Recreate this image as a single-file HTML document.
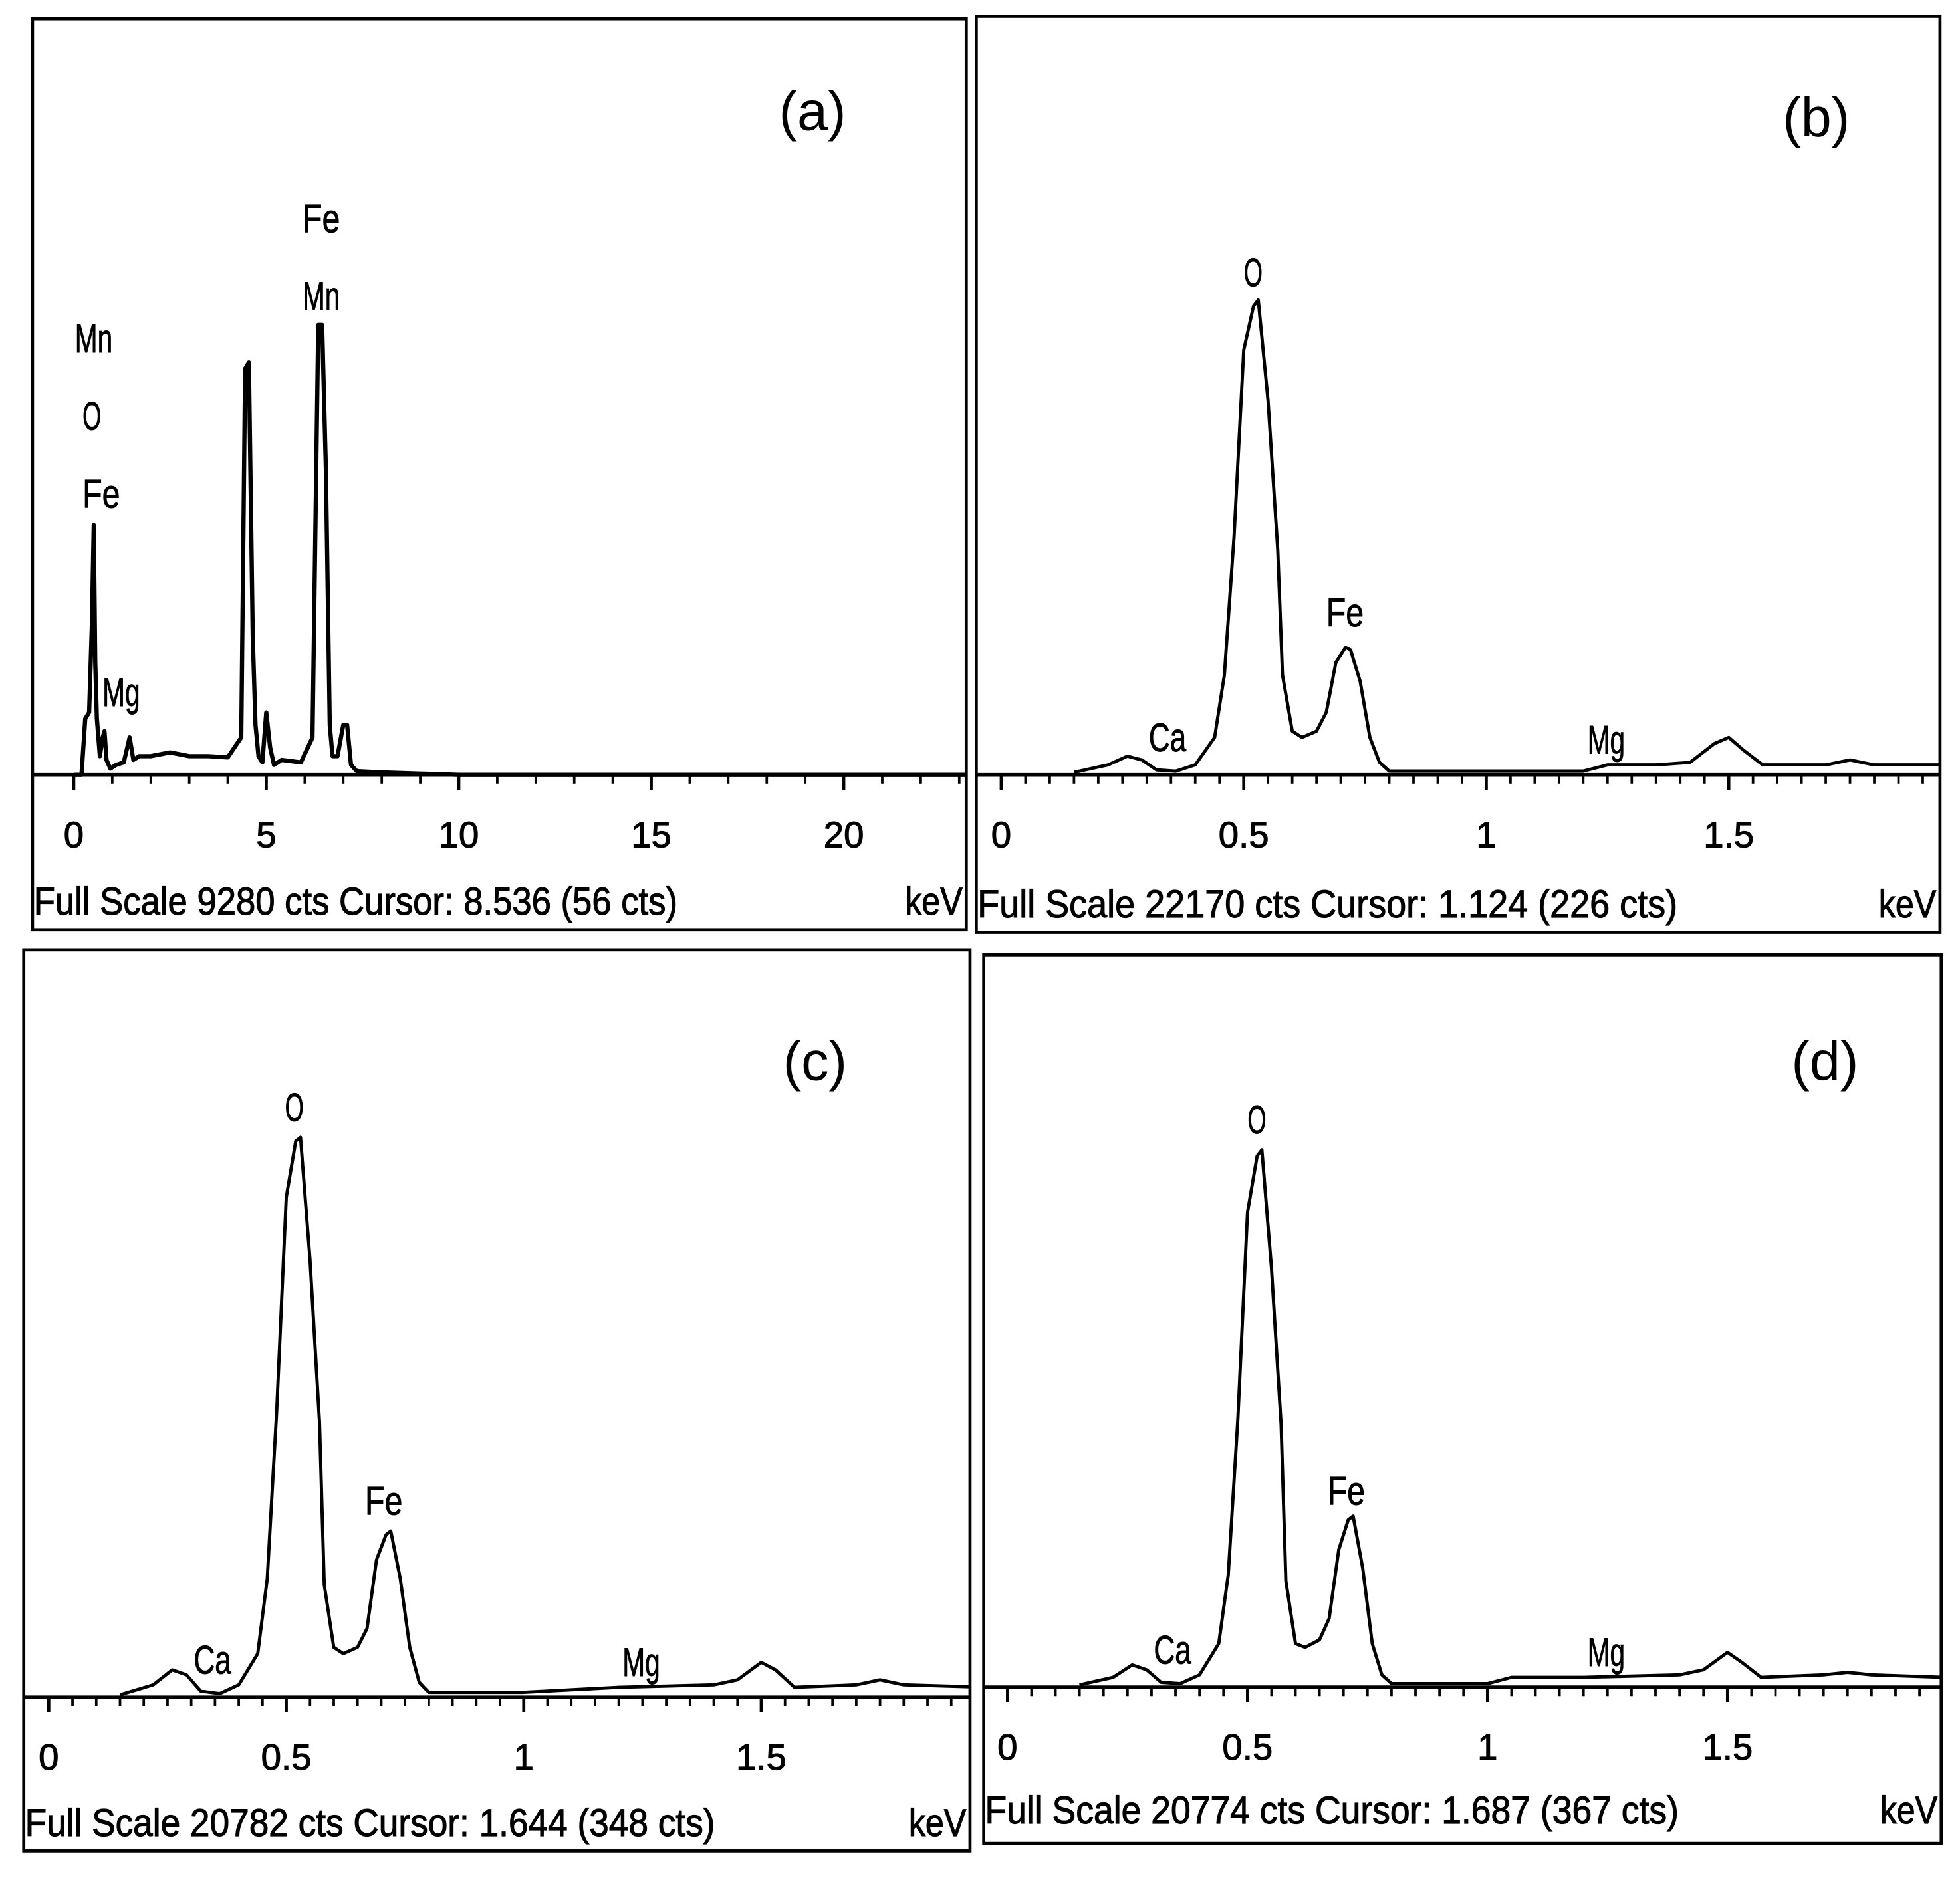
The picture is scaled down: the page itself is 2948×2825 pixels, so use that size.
<!DOCTYPE html>
<html><head><meta charset="utf-8"><style>
html,body{margin:0;padding:0;background:#fff;}
svg{display:block;}
text{font-family:"Liberation Sans",sans-serif;}
</style></head><body>
<svg id="fig" width="2948" height="2825" viewBox="0 0 1568 1502.6" preserveAspectRatio="none" xmlns="http://www.w3.org/2000/svg"></svg>
<script>
// Panel (a) spectrum: energy (keV) and counts (arbitrary, px-equivalent)
const aEnergy=[0,0.2,0.3,0.4,0.47,0.52,0.56,0.6,0.68,0.75,0.8,0.85,0.95,1.1,1.3,1.45,1.55,1.7,2,2.5,3,3.5,4,4.35,4.45,4.55,4.65,4.72,4.8,4.9,5.0,5.1,5.2,5.4,5.9,6.2,6.35,6.45,6.55,6.65,6.72,6.85,7.0,7.1,7.2,7.35,8,10,12,23.5];
const aCounts=[0,0,45,50,120,200,90,45,15,30,35,12,5,8,10,30,12,15,15,18,15,15,14,30,325,330,110,40,15,10,50,22,8,12,10,30,360,360,245,40,15,15,40,40,8,3,2,0,0,0];
// Panel (b)
const bEnergy=[0.15,0.22,0.26,0.29,0.32,0.36,0.4,0.44,0.46,0.48,0.5,0.52,0.53,0.55,0.57,0.58,0.6,0.62,0.65,0.67,0.69,0.71,0.72,0.74,0.76,0.78,0.8,1.0,1.2,1.25,1.35,1.42,1.47,1.5,1.53,1.57,1.7,1.75,1.8,1.95];
const bCounts=[2,8,15,12,4,3,8,30,80,190,340,375,380,300,180,80,35,30,35,50,90,102,100,75,30,10,3,3,3,8,8,10,25,30,20,8,8,12,8,8];
// Panel (c)
const cEnergy=[0.15,0.22,0.26,0.29,0.32,0.36,0.4,0.44,0.46,0.48,0.5,0.52,0.53,0.55,0.57,0.58,0.6,0.62,0.65,0.67,0.69,0.71,0.72,0.74,0.76,0.78,0.8,1.0,1.1,1.2,1.4,1.45,1.5,1.53,1.57,1.7,1.75,1.8,1.98];
const cCounts=[2,10,22,18,5,3,10,35,95,230,400,445,448,350,220,90,40,35,40,55,110,130,133,95,40,12,4,4,6,8,10,14,28,22,8,10,14,10,8];
// Panel (d)
const dEnergy=[0.15,0.22,0.26,0.29,0.32,0.36,0.4,0.44,0.46,0.48,0.5,0.52,0.53,0.55,0.57,0.58,0.6,0.62,0.65,0.67,0.69,0.71,0.72,0.74,0.76,0.78,0.8,1.0,1.05,1.2,1.4,1.45,1.5,1.53,1.57,1.7,1.75,1.8,1.95];
const dCounts=[2,8,18,14,4,3,10,35,90,215,380,425,430,335,210,85,35,32,38,55,110,134,137,95,35,10,3,3,8,8,10,14,28,20,8,10,12,10,8];
// Tick labels
const aTicks=["0","5","10","15","20"];
const bTicks=["0","0.5","1","1.5"];
const footers=["Full Scale 9280 cts Cursor: 8.536  (56 cts)","Full Scale 22170 cts Cursor: 1.124  (226 cts)","Full Scale 20782 cts Cursor: 1.644  (348 cts)","Full Scale 20774 cts Cursor: 1.687  (367 cts)"];

const NS="http://www.w3.org/2000/svg";
const svg=document.getElementById('fig');
function mk(tag,attrs,parent){const e=document.createElementNS(NS,tag);for(const k in attrs)e.setAttribute(k,attrs[k]);(parent||svg).appendChild(e);return e;}
const defs=mk('defs',{});

const panels=[
 {id:'a',box:[26,15,773,744],axisY:620,x0:59,pxPer:30.8,maxE:23.5,minor:1,major:5,ticks:aTicks,tickStep:5,E:aEnergy,C:aCounts,lab:[650,92],foot:[26,720,515],sw:3.4},
 {id:'b',box:[781,13,1552,746],axisY:620,x0:801,pxPer:388,maxE:1.93,minor:0.05,major:0.5,ticks:bTicks,tickStep:0.5,E:bEnergy,C:bCounts,lab:[1453,97],foot:[781,722,560],sw:2.6},
 {id:'c',box:[19,760,776,1481],axisY:1358,x0:39,pxPer:380,maxE:1.98,minor:0.05,major:0.5,ticks:bTicks,tickStep:0.5,E:cEnergy,C:cCounts,lab:[652,852],foot:[19,1457,552],sw:2.6},
 {id:'d',box:[787,764,1553,1475],axisY:1350,x0:806,pxPer:384,maxE:1.94,minor:0.05,major:0.5,ticks:bTicks,tickStep:0.5,E:dEnergy,C:dCounts,lab:[1460,852],foot:[787,1447,555],sw:2.6}
];
const elemLabels={
 a:[["Mn",60,268],["O",66,330],["Fe",66,392],["Mg",82,551],["Fe",242,172],["Mn",242,234]],
 b:[["O",995,215],["Fe",1061,487],["Ca",919,587],["Mg",1270,589]],
 c:[["O",228,883],["Fe",292,1198],["Ca",155,1325],["Mg",498,1327]],
 d:[["O",998,893],["Fe",1062,1190],["Ca",923,1317],["Mg",1270,1319]]
};

panels.forEach(p=>{
 const g=mk('g',{});
 
 
 const [x1,y1,x2,y2]=p.box;
 const cp=mk('clipPath',{id:'clip-'+p.id},defs);
 mk('rect',{x:x1,y:y1,width:x2-x1,height:y2-y1},cp);
 const r=mk('rect',{x:x1,y:y1,width:x2-x1,height:y2-y1,fill:'none',stroke:'#000','stroke-width':2.5},g);
 
 
 const xs=e=>p.x0+e*p.pxPer;
 const ys=c=>p.axisY-c;
 const ax=mk('line',{x1:x1,x2:x2,y1:p.axisY,y2:p.axisY,stroke:'#000','stroke-width':3},g);
 
 
 const n=Math.floor(p.maxE/p.minor+1e-6);
 for(let i=0;i<=n;i++){
  const e=i*p.minor;const x=xs(e);if(x>x2-2)break;
  const isMaj=Math.abs(e/p.major-Math.round(e/p.major))<1e-6;
  const t=mk('line',{x1:x,x2:x,y1:p.axisY,y2:p.axisY+(isMaj?12:7),stroke:'#000','stroke-width':isMaj?2.5:2},g);
  
  
 }
 p.ticks.forEach((lbl,i)=>{
  const t=mk('text',{x:xs(i*p.tickStep),y:p.axisY+58,'font-size':29,'text-anchor':'middle',fill:'#000','stroke':'#000','stroke-width':0.6},g);
  t.textContent=lbl;
  
  
 });
 let d='';
 p.E.forEach((e,i)=>{d+=(i?'L':'M')+xs(e).toFixed(1)+' '+ys(p.C[i]).toFixed(1);});
 const path=mk('path',{d:d,fill:'none',stroke:'#000','stroke-width':p.sw,'stroke-linejoin':'round','clip-path':'url(#clip-'+p.id+')'},g);
 
 
 const pl=mk('text',{x:p.lab[0],y:p.lab[1]+12,'font-size':44,'text-anchor':'middle',fill:'#000','font-family':'Liberation Serif, serif'},g);
 pl.textContent='('+p.id+')';
 
 
 const ft=mk('text',{x:p.foot[0]+1,y:p.foot[1]+12,'font-size':31,textLength:p.foot[2],lengthAdjust:'spacingAndGlyphs',fill:'#000','stroke':'#000','stroke-width':0.6},g);
 ft.textContent=footers['abcd'.indexOf(p.id)];
 
 
 const kv=mk('text',{x:x2-3,y:p.foot[1]+12,'font-size':31,'text-anchor':'end',textLength:46,lengthAdjust:'spacingAndGlyphs',fill:'#000','stroke':'#000','stroke-width':0.6},g);
 kv.textContent='keV';
 
 
 elemLabels[p.id].forEach(l=>{
  const t=mk('text',{x:l[1],y:l[2]+14,'font-size':32,textLength:l[0].length*15,lengthAdjust:'spacingAndGlyphs',fill:'#000','stroke':'#000','stroke-width':0.5},g);
  t.textContent=l[0];
  
  
 });
});
</script>
</body></html>
